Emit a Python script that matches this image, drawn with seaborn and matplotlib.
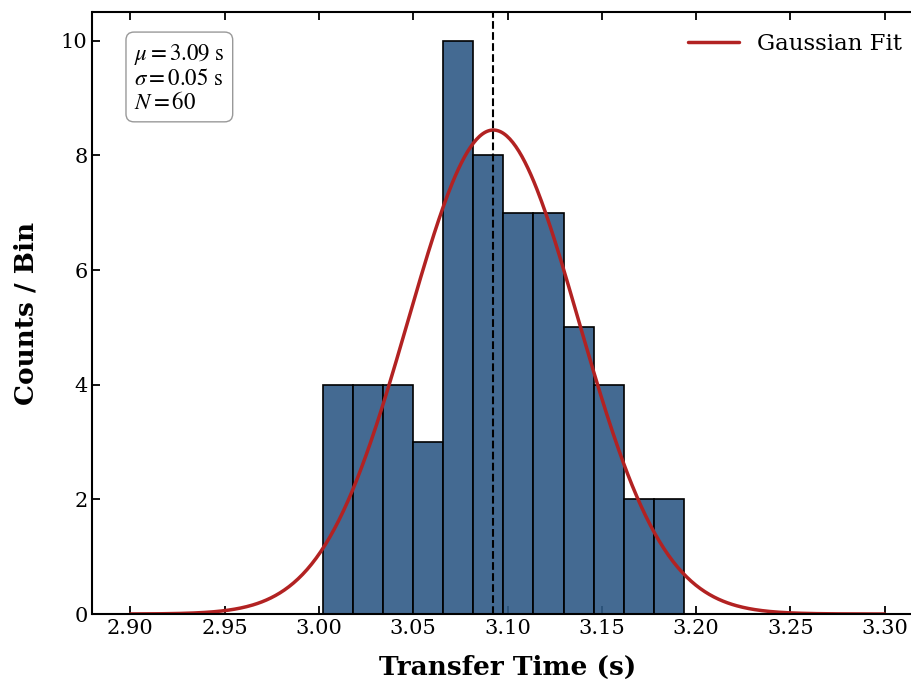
import numpy as np
import pandas as pd
import matplotlib
matplotlib.use("Agg")
import matplotlib.pyplot as plt
import seaborn as sns

# ---- data ----
bin_start = 3.0022
bin_width = 0.01594
counts = [4, 4, 4, 3, 10, 8, 7, 7, 5, 4, 2, 2]
fit_mu = 3.0925
fit_sigma = 0.0452
n_total = 60
stat_labels = [r"$\mu = 3.09$ s", r"$\sigma = 0.05$ s", r"$N = 60$"]
x_ticks = [2.90, 2.95, 3.00, 3.05, 3.10, 3.15, 3.20, 3.25, 3.30]
y_ticks = [0, 2, 4, 6, 8, 10]

sns.set_style("ticks")
plt.rcParams["font.family"] = ["DejaVu Serif"]
plt.rcParams["mathtext.fontset"] = "stix"
plt.rcParams["text.color"] = "black"
plt.rcParams["axes.labelcolor"] = "black"
plt.rcParams["xtick.color"] = "black"
plt.rcParams["ytick.color"] = "black"
plt.rcParams["axes.edgecolor"] = "black"

fig = plt.figure(figsize=(9.12, 6.81), dpi=100)
ax = fig.add_axes([92.5 / 912, 1 - 614 / 681, 830 / 912, 602 / 681])

nb = len(counts)
edges = bin_start + bin_width * np.arange(nb + 1)
centers = (edges[:-1] + edges[1:]) / 2
df = pd.DataFrame({"t": centers, "w": counts})
sns.histplot(data=df, x="t", weights="w", bins=nb, binrange=(edges[0], edges[-1]), ax=ax,
             color="#2f5a86", alpha=0.9, edgecolor="black", linewidth=1.2)

xs = np.linspace(2.90, 3.30, 500)
ys = n_total * bin_width / (np.sqrt(2 * np.pi) * fit_sigma) * np.exp(-0.5 * ((xs - fit_mu) / fit_sigma) ** 2)
sns.lineplot(x=xs, y=ys, ax=ax, color="#b22222", linewidth=2.5, label="Gaussian Fit")
ax.axvline(fit_mu, color="black", linestyle="--", linewidth=1.5)

ax.set_xlim(2.88, 3.32)
ax.set_ylim(0, 10.5)
ax.set_xticks(x_ticks)
ax.set_xticklabels([f"{v:.2f}" for v in x_ticks])
ax.set_yticks(y_ticks)
ax.set_axisbelow(True)
ax.tick_params(direction="in", length=6, width=1.3, labelsize=15, top=True, right=True)
for s in ax.spines.values():
    s.set_linewidth(1.5)
    s.set_visible(True)

ax.set_xlabel("Transfer Time (s)", fontsize=19, fontweight="bold", labelpad=12)
ax.set_ylabel("Counts / Bin", fontsize=19, fontweight="bold", labelpad=16)

ax.text(0.05, 0.95, "\n".join(stat_labels), transform=ax.transAxes, va="top", ha="left",
        fontsize=16.5, family="STIXGeneral", linespacing=1.1,
        bbox=dict(boxstyle="round,pad=0.35", facecolor="white", edgecolor="#999999", linewidth=1))

leg = ax.legend(loc="upper right", frameon=False, fontsize=16.5, handlelength=2.2)

fig.savefig("out.png", dpi=100)
